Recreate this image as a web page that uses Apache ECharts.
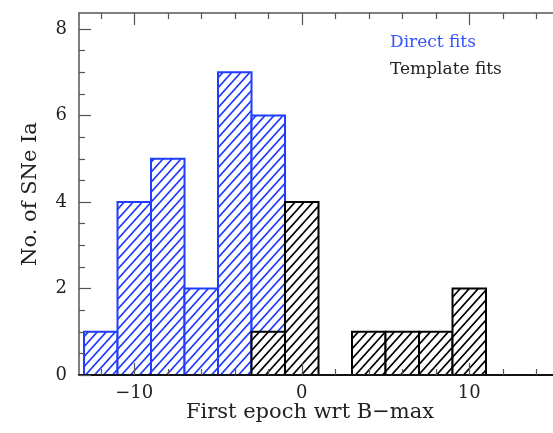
<!DOCTYPE html>
<html>
<head>
<meta charset="utf-8">
<script src="https://cdn.jsdelivr.net/npm/echarts@6/dist/echarts.min.js"></script>
<style>
    html, body { margin: 0; padding: 0; background: #fff; }
    #chart { width: 553px; height: 433px; }
</style>
</head>
<body>
<div id="chart"></div>
<script>
    // histogram data, bin width 2 (bin start, count)
    var binWidth = 2;
    var directStarts = [-13, -11, -9, -7, -5, -3];
    var directCounts = [1, 4, 5, 2, 7, 6];
    var templateStarts = [-3, -1, 3, 5, 7, 9];
    var templateCounts = [1, 4, 1, 1, 1, 2];
    // tick positions
    var xMajorTicks = [-10, 0, 10];
    var xMinorTicks = [-12, -8, -6, -4, -2, 2, 4, 6, 8, 12, 14];
    var yMajorTicks = [0, 2, 4, 6, 8];
    var yMinorTicks = [0.5, 1, 1.5, 2.5, 3, 3.5, 4.5, 5, 5.5, 6.5, 7, 7.5];

    var blue = '#1f3cff';
    var font = 'DejaVu Serif';

    // diagonal hatch tile
    function hatch(color) {
        var w = 9, h = 10;
        var c = document.createElement('canvas');
        c.width = w;
        c.height = h;
        var g = c.getContext('2d');
        g.fillStyle = '#fff';
        g.fillRect(0, 0, w, h);
        g.strokeStyle = color;
        g.lineWidth = 1.7;
        g.beginPath();
        for (var k = -1; k <= 1; k++) {
            g.moveTo(k * w - 1, h + 10 / 9);
            g.lineTo(k * w + w + 1, -10 / 9);
        }
        g.stroke();
        return c;
    }

    function pairs(starts, counts) {
        var out = [];
        for (var i = 0; i < starts.length; i++) out.push([starts[i], counts[i]]);
        return out;
    }

    function renderBar(color, pattern) {
        return function (params, api) {
            var x0 = api.value(0), n = api.value(1);
            var p0 = api.coord([x0, n]);
            var p1 = api.coord([x0 + binWidth, 0]);
            return {
                type: 'rect',
                shape: { x: p0[0], y: p0[1], width: p1[0] - p0[0], height: p1[1] - p0[1] },
                style: { fill: { image: pattern, repeat: 'repeat' }, stroke: color, lineWidth: 2 }
            };
        };
    }

    var xMin = -13.3, xMax = 15, yMin = 0, yMax = 8.37;
    var minus = function (v) { return String(v).replace('-', '\u2212'); };

    function xAx(pos, ticks, len, labels, line) {
        return {
            type: 'value', position: pos, min: xMin, max: xMax, z: 5,
            splitLine: { show: false },
            axisLine: { show: !!line, onZero: false, lineStyle: line || {} },
            axisTick: { show: true, inside: true, length: len, customValues: ticks,
                lineStyle: { color: '#555', width: 1.2 } },
            axisLabel: labels ? {
                show: true, customValues: ticks, formatter: minus, margin: 9,
                fontFamily: font, fontSize: 18, color: '#222'
            } : { show: false }
        };
    }
    function yAx(ticks, len, labels, line) {
        var a = {
            type: 'value', position: 'left', min: yMin, max: yMax, z: 5,
            splitLine: { show: false },
            axisLine: { show: !!line, onZero: false, lineStyle: line || {} },
            axisTick: { show: true, inside: true, length: len, customValues: ticks,
                lineStyle: { color: '#555', width: 1.2 } },
            axisLabel: labels ? {
                show: true, customValues: ticks, margin: 12,
                fontFamily: font, fontSize: 18, color: '#222'
            } : { show: false }
        };
        if (labels) {
            a.name = 'No. of SNe Ia';
            a.nameLocation = 'middle';
            a.nameGap = 38;
            a.nameTextStyle = { fontFamily: font, fontSize: 21, color: '#222' };
        }
        return a;
    }

    var myChart = echarts.init(document.getElementById('chart'));
    var option = {
        animation: false,
        grid: { left: 79, right: -7, top: 13, bottom: 58 },
        xAxis: [
            xAx('bottom', xMinorTicks, 6, false, { color: '#111', width: 2 }),
            xAx('bottom', xMajorTicks, 12, true, null),
            xAx('top', xMinorTicks, 6, false, { color: '#555', width: 1.5 }),
            xAx('top', xMajorTicks, 12, false, null)
        ],
        yAxis: [
            yAx(yMajorTicks, 12, true, { color: '#555', width: 1.5 }),
            yAx(yMinorTicks, 6, false, null)
        ],
        graphic: [
            { type: 'text', x: 310, y: 413, style: { text: 'First epoch wrt B\u2212max',
                font: '21px "DejaVu Serif"', fill: '#222', align: 'center', verticalAlign: 'middle' } },
            { type: 'text', x: 390, y: 43, style: { text: 'Direct fits',
                font: '17px "DejaVu Serif"', fill: '#3552ff', verticalAlign: 'middle' } },
            { type: 'text', x: 390, y: 70, style: { text: 'Template fits',
                font: '17px "DejaVu Serif"', fill: '#222', verticalAlign: 'middle' } }
        ],
        series: [{
            name: 'Direct fits',
            type: 'custom',
            xAxisIndex: 0, yAxisIndex: 0,
            renderItem: renderBar(blue, hatch(blue)),
            encode: { x: 0, y: 1 },
            data: pairs(directStarts, directCounts),
            z: 2
        }, {
            name: 'Template fits',
            type: 'custom',
            xAxisIndex: 0, yAxisIndex: 0,
            renderItem: renderBar('#000', hatch('#000')),
            encode: { x: 0, y: 1 },
            data: pairs(templateStarts, templateCounts),
            z: 3
        }]
    };
    myChart.setOption(option);
</script>
</body>
</html>
